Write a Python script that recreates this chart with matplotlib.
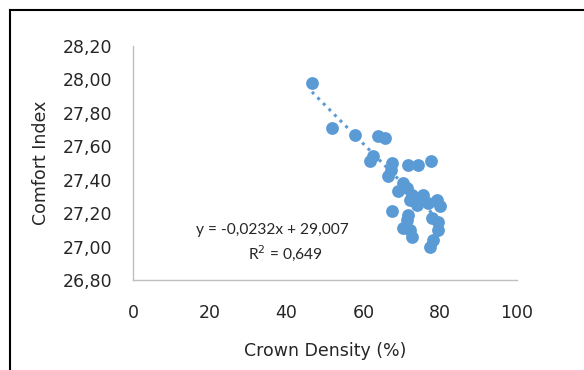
import matplotlib
matplotlib.use('Agg')
from matplotlib import pyplot as plt
from matplotlib.lines import Line2D
import numpy as np

# crown density (%) and comfort index
crown = [46.6, 51.8, 57.8, 63.8, 65.6, 62.5, 61.7, 67.4, 67.2, 66.4,
         71.6, 74.2, 77.6, 70.3, 71.4, 69.0, 72.7, 75.5, 79.2, 76.8,
         72.1, 74.0, 79.9, 67.4, 71.6, 77.9, 79.4, 70.3, 72.1, 72.7,
         78.1, 77.3, 79.4, 71.4, 70.5]
comfort = [27.98, 27.71, 27.67, 27.66, 27.65, 27.54, 27.51, 27.50, 27.46, 27.42,
           27.49, 27.49, 27.51, 27.38, 27.35, 27.33, 27.31, 27.31, 27.28, 27.26,
           27.28, 27.25, 27.24, 27.21, 27.19, 27.17, 27.15, 27.11, 27.10, 27.06,
           27.04, 27.00, 27.10, 27.16, 27.36]

slope = -0.0232
intercept = 29.007
eq_text = 'y = -0,0232x + 29,007'
r2_text = 'R$^2$ = 0,649'

xticks = [0, 20, 40, 60, 80, 100]
yticks = [26.8, 27.0, 27.2, 27.4, 27.6, 27.8, 28.0, 28.2]
ylabels = ['26,80', '27,00', '27,20', '27,40', '27,60', '27,80', '28,00', '28,20']

blue = '#5B9BD5'
txt = '#262626'

fig = plt.figure(figsize=(5.84, 3.70), dpi=100)
ax = fig.add_axes([0.2277, 0.2432, 0.6575, 0.6324])

ax.scatter(crown, comfort, s=85, color=blue, zorder=3, linewidths=0)

xs = np.array([min(crown), max(crown)])
ax.plot(xs, slope * xs + intercept, color=blue, lw=2.2, ls=(0, (1, 1.6)),
        zorder=2)

ax.text(16.3, 27.10, eq_text, fontsize=11.2, family='Lato',
        va='center', ha='left', color=txt, zorder=5)
ax.text(30.0, 26.96, r2_text, fontsize=11.2, family='Lato',
        va='center', ha='left', color=txt, zorder=5)

ax.set_xlim(0, 100)
ax.set_ylim(26.8, 28.2)
ax.set_xticks(xticks)
ax.set_xticklabels([str(t) for t in xticks])
ax.set_yticks(yticks)
ax.set_yticklabels(ylabels)
ax.tick_params(length=0, labelsize=12.5, colors=txt)
ax.tick_params(axis='y', pad=15)
ax.tick_params(axis='x', pad=17)

for s in ['top', 'right']:
    ax.spines[s].set_visible(False)
for s in ['left', 'bottom']:
    ax.spines[s].set_color('#BFBFBF')
    ax.spines[s].set_linewidth(1)

ax.set_xlabel('Crown Density (%)', fontsize=12.5, color=txt, labelpad=15)
ax.set_ylabel('Comfort Index', fontsize=12.5, color=txt, labelpad=9)

# frame lines on top and left of the picture
fig.add_artist(Line2D([10 / 584, 1], [1 - 9.5 / 370] * 2, color='black',
                      lw=1.5, transform=fig.transFigure))
fig.add_artist(Line2D([10 / 584] * 2, [0, 1 - 9.5 / 370], color='black',
                      lw=1.5, transform=fig.transFigure))

fig.savefig('out.png', dpi=100)
